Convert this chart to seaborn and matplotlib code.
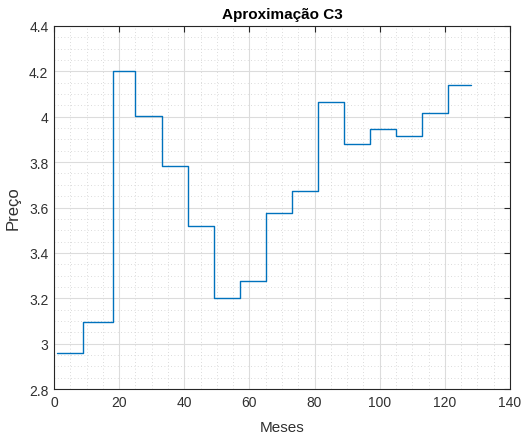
import numpy as np
import pandas as pd
import matplotlib
matplotlib.use("Agg")
import matplotlib.pyplot as plt
from matplotlib.ticker import MultipleLocator, FormatStrFormatter
import seaborn as sns

# Step start months and price levels
months = [1, 9, 18, 25, 33, 41, 49, 57, 65, 73, 81, 89, 97, 105, 113, 121, 128]
prices = [2.96, 3.095, 4.20, 4.005, 3.782, 3.517, 3.200, 3.276, 3.577, 3.674,
          4.064, 3.879, 3.944, 3.916, 4.015, 4.139, 4.139]

title = "Aproximação C3"
xlabel = "Meses"
ylabel = "Preço"

sns.set_theme(style="white")
plt.rcParams['font.family'] = ['Liberation Sans', 'DejaVu Sans']

df = pd.DataFrame({"Meses": months, "Preco": prices})

fig = plt.figure(figsize=(5.26, 4.39), dpi=100)
ax = fig.add_axes([0.1027, 0.1116, 0.8669, 0.8269])

sns.lineplot(data=df, x="Meses", y="Preco", drawstyle="steps-post",
             color="#0072BD", linewidth=1.0, ax=ax)

ax.set_xlim(0, 140)
ax.set_ylim(2.8, 4.4)
ax.xaxis.set_major_locator(MultipleLocator(20))
ax.xaxis.set_minor_locator(MultipleLocator(5))
ax.yaxis.set_major_locator(MultipleLocator(0.2))
ax.yaxis.set_minor_locator(MultipleLocator(0.05))
ax.yaxis.set_major_formatter(FormatStrFormatter('%g'))

ax.grid(True, which='major', color='#dcdcdc', linewidth=0.8, linestyle='-')
ax.grid(True, which='minor', color='#cfcfcf', linewidth=0.6, linestyle=(0, (1, 3)))
ax.set_axisbelow(True)

for s in ax.spines.values():
    s.set_color('#262626')
    s.set_linewidth(0.8)
    s.set_visible(True)

ax.tick_params(which='major', direction='in', length=4, width=0.8, color='#262626',
               top=True, right=True, labelsize=10, labelcolor='#303030', pad=4)
ax.tick_params(which='minor', length=0, top=True, right=True)

ax.set_title(title, fontsize=11, fontweight='bold', color='black', pad=6)
ax.set_xlabel(xlabel, fontsize=11, color='#303030', labelpad=8)
ax.set_ylabel(ylabel, fontsize=12, color='#303030', labelpad=6)

fig.savefig("out.png", dpi=100)
